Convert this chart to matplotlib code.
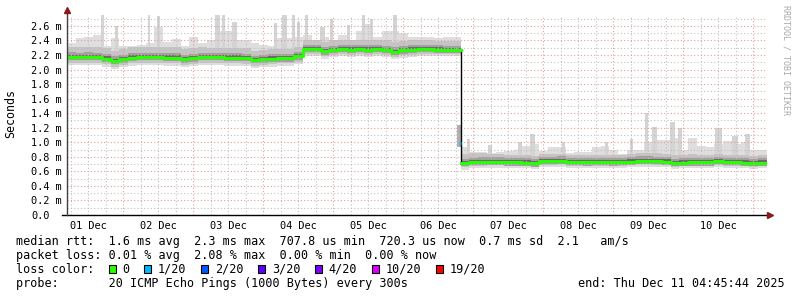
import numpy as np
import pandas as pd
import matplotlib
matplotlib.use('Agg')
import matplotlib.pyplot as plt
import matplotlib.dates as mdates
from matplotlib.patches import Rectangle

# ---- data (ms, 3 hour bins) ----
end_time = pd.Timestamp('2025-12-11 04:45:44')
start_time = end_time - pd.Timedelta(days=10)
step_h = 3

median_ms = [
    2.175, 2.17, 2.175, 2.17, 2.15, 2.12, 2.14, 2.165, 2.17, 2.17,
    2.17, 2.165, 2.165, 2.14, 2.155, 2.17, 2.17, 2.17, 2.165, 2.165,
    2.16, 2.13, 2.14, 2.15, 2.155, 2.155, 2.18, 2.28, 2.28, 2.25,
    2.27, 2.28, 2.275, 2.28, 2.275, 2.28, 2.27, 2.245, 2.265, 2.275,
    2.28, 2.28, 2.275, 2.27, 2.27, 0.715, 0.73, 0.733, 0.733, 0.733,
    0.725, 0.725, 0.72, 0.71, 0.74, 0.74, 0.745, 0.73, 0.73, 0.725,
    0.73, 0.73, 0.725, 0.73, 0.735, 0.745, 0.745, 0.74, 0.735, 0.715,
    0.72, 0.725, 0.725, 0.725, 0.74, 0.73, 0.73, 0.72, 0.715, 0.72,
]
# top of the smoke in each bin, without the short spikes
max_ms = [
    2.36, 2.43, 2.45, 2.47, 2.32, 2.43, 2.33, 2.32, 2.34, 2.36,
    2.58, 2.38, 2.42, 2.32, 2.45, 2.36, 2.40, 2.53, 2.53, 2.41,
    2.40, 2.37, 2.34, 2.32, 2.43, 2.43, 2.45, 2.48, 2.41, 2.45,
    2.41, 2.48, 2.41, 2.53, 2.63, 2.45, 2.53, 2.53, 2.50, 2.45,
    2.45, 2.45, 2.43, 2.45, 2.45, 0.94, 0.86, 0.86, 0.85, 0.86,
    0.88, 0.90, 0.95, 0.97, 0.88, 0.93, 0.93, 0.85, 0.86, 0.87,
    0.93, 0.95, 0.89, 0.84, 0.89, 0.89, 1.01, 1.03, 1.03, 1.06,
    0.89, 1.06, 0.95, 0.93, 0.97, 1.02, 0.97, 1.00, 0.90, 0.89,
]
# short spikes: hours after start, width in hours, top in ms
spike_start = [11.8, 16.6, 27.8, 31.0, 50.7, 53.1, 56.6, 70.9, 73.7, 77.1,
               78.9, 81.6, 86.7, 90.2, 96.0, 101.1, 103.9, 111.8,
               137.1, 144.3, 154.6, 158.7, 169.7, 184.5, 193.0, 198.2,
               200.6, 206.7, 209.5, 222.2, 228.0, 232.5]
spike_width = [0.8, 0.8, 0.8, 0.8, 1.7, 1.1, 1.7, 1.0, 1.7, 1.1,
               1.0, 1.0, 1.8, 1.0, 1.0, 1.1, 1.0, 1.3,
               1.1, 1.4, 1.4, 1.8, 1.0, 1.0, 1.0, 1.0,
               1.7, 1.8, 1.4, 2.4, 2.0, 1.7]
spike_top = [2.75, 2.60, 2.75, 2.73, 2.75, 2.75, 2.65, 2.64, 2.75, 2.75,
             2.66, 2.75, 2.59, 2.69, 2.61, 2.75, 2.69, 2.75,
             1.05, 0.96, 1.01, 1.12, 1.01, 1.01, 1.05, 1.40,
             1.21, 1.28, 1.19, 1.19, 1.08, 1.12]

# spread of the dense smoke around the median, one value per day
band_up = [0.14, 0.14, 0.13, 0.13, 0.13, 0.12, 0.10, 0.10, 0.11, 0.10]
band_dn = [0.08, 0.08, 0.08, 0.07, 0.07, 0.06, 0.05, 0.05, 0.05, 0.05]

# the one sample with packet loss at the level change
loss_hours = [134.3, 135.0]
loss_median = 0.99
loss_smoke = (0.93, 1.24)

legend_rtt = "median rtt:  1.6 ms avg  2.3 ms max  707.8 us min  720.3 us now  0.7 ms sd  2.1   am/s"
legend_loss = "packet loss: 0.01 % avg  2.08 % max  0.00 % min  0.00 % now"
legend_probe = "probe:       20 ICMP Echo Pings (1000 Bytes) every 300s"
legend_end = "end: Thu Dec 11 04:45:44 2025"
loss_labels = ['0', '1/20', '2/20', '3/20', '4/20', '10/20', '19/20']
loss_colors = ['#26ff00', '#00b8ff', '#0059ff', '#5e00ff', '#7e00ff', '#dd00ff', '#ff0000']

# ---- prep ----
W, H, DPI = 797, 297, 100
mono = 'DejaVu Sans Mono'
med = np.array(median_ms)
mx = np.array(max_ms)
n = len(med)
up = np.repeat(band_up, 8)[:n]
dn = np.repeat(band_dn, 8)[:n]

def hx(h):
    return mdates.date2num(start_time + pd.to_timedelta(h, unit='h'))

edges = hx(np.arange(n + 1) * step_h)
def sv(a):
    return np.append(a, a[-1])

fig = plt.figure(figsize=(W / DPI, H / DPI), dpi=DPI)
ax = fig.add_axes([67 / W, (H - 215) / H, 700 / W, 200 / H])
ax.set_xlim(edges[0], edges[-1])
ax.set_ylim(0, 2.75)

# grid (drawn over the smoke, under the median line)
day0 = start_time.normalize()
for k in range(0, 12 * 4):
    t = day0 + pd.Timedelta(hours=6 * k)
    if t <= start_time or t >= end_time:
        continue
    c = '#e89a9a' if t.hour == 0 else '#c0c0c0'
    ax.axvline(mdates.date2num(t), color=c, lw=0.8, ls=(0, (1, 2)), zorder=4.5)
for i in range(1, 28):
    v = i * 0.1
    c = '#e89a9a' if i % 2 == 0 else '#c0c0c0'
    ax.axhline(v, color=c, lw=0.8, ls=(0, (1, 2)), zorder=4.5)

# smoke
ax.fill_between(edges, sv(med - dn - 0.03), sv(mx), step='post', color='#dedede', lw=0, zorder=1)
ss = np.array(spike_start)
sx0 = hx(ss)
sx1 = hx(ss + np.array(spike_width))
bin_i = (ss // step_h).astype(int)
ax.bar(sx0, np.array(spike_top) - med[bin_i], bottom=med[bin_i], width=sx1 - sx0, align='edge',
       color='#d4d4d4', lw=0, zorder=1)
ax.fill_between(edges, sv(med - dn), sv(med + up), step='post', color='#c4c4c4', lw=0, zorder=2)
ax.fill_between(edges, sv(med - 0.045), sv(med + 0.06), step='post', color='#a0a0a0', lw=0, zorder=3)
ax.fill_between(edges, sv(med - 0.025), sv(med + 0.03), step='post', color='#6a6a6a', lw=0, zorder=4)
lx = hx(np.array(loss_hours))
ax.fill_between([lx[0] - (lx[1] - lx[0]), lx[1]], loss_smoke[0], loss_smoke[1], color='#b0b0b0', lw=0, zorder=2)

# median
ax.step(edges, sv(med), where='post', color='black', lw=1.0, zorder=5)
split = 45
ax.step(edges[:split + 1], sv(med[:split]), where='post', color=loss_colors[0], lw=2.2, zorder=6)
ax.step(edges[split:], sv(med[split:]), where='post', color=loss_colors[0], lw=2.2, zorder=6)
ax.plot(lx, [loss_median, loss_median], color=loss_colors[1], lw=2.2, zorder=7, solid_capstyle='butt')

# axes lines + arrows
for s in ax.spines.values():
    s.set_visible(False)
ax.plot([-5 / 700, 1.003], [0, 0], color='black', lw=1, transform=ax.transAxes, clip_on=False, zorder=8)
ax.plot([0, 0], [0, 1.015], color='#404040', lw=1, transform=ax.transAxes, clip_on=False, zorder=8)
ax.plot(1.005, 0, marker='>', ms=4, color='#8b1a1a', transform=ax.transAxes, clip_on=False, zorder=9)
ax.plot(0, 1.025, marker='^', ms=4, color='#8b1a1a', transform=ax.transAxes, clip_on=False, zorder=9)

# ticks
yt = np.arange(0, 2.61, 0.2)
ax.set_yticks(yt)
ax.set_yticklabels(['0.0'] + ['%.1f m' % v for v in yt[1:]], fontfamily=mono, fontsize=7.4)
for lbl in ax.get_yticklabels():
    lbl.set_horizontalalignment('left')
ax.tick_params(axis='y', length=0, pad=26)
noons = [day0 + pd.Timedelta(days=d, hours=12) for d in range(10)]
ax.set_xticks([mdates.date2num(t) for t in noons])
ax.set_xticklabels([t.strftime('%d %b') for t in noons], fontfamily=mono, fontsize=7.4)
ax.tick_params(axis='x', length=0, pad=4)

fig.text(11 / W, 1 - 114 / H, 'Seconds', rotation=90, ha='center', va='center',
         fontfamily=mono, fontsize=8.4)
fig.text(786 / W, 1 - 60 / H, 'RRDTOOL / TOBI OETIKER', rotation=270, ha='center', va='center',
         fontfamily=mono, fontsize=6, color='#a8a8a8')

# legend
fs = 8.5
cw = 0.602 * fs * DPI / 72
x0 = 16
def ftx(px):
    return px / W
def fty(py):
    return 1 - py / H

fig.text(ftx(x0), fty(245), legend_rtt, fontfamily=mono, fontsize=fs, va='baseline')
fig.text(ftx(x0), fty(259), legend_loss, fontfamily=mono, fontsize=fs, va='baseline')
fig.text(ftx(x0), fty(273), 'loss color:', fontfamily=mono, fontsize=fs, va='baseline')
idx = 13
for lab, col in zip(loss_labels, loss_colors):
    bx = x0 + idx * cw + 0.5
    fig.patches.append(Rectangle((ftx(bx), fty(273)), 7 / W, 8 / H, transform=fig.transFigure,
                                 facecolor=col, edgecolor='black', lw=0.8))
    fig.text(ftx(x0 + (idx + 2) * cw), fty(273), lab, fontfamily=mono, fontsize=fs, va='baseline')
    idx = idx + 2 + len(lab) + 2
fig.text(ftx(x0), fty(287), legend_probe, fontfamily=mono, fontsize=fs, va='baseline')
fig.text(ftx(578), fty(287), legend_end, fontfamily=mono, fontsize=fs, va='baseline')

fig.savefig('out.png', dpi=DPI)
